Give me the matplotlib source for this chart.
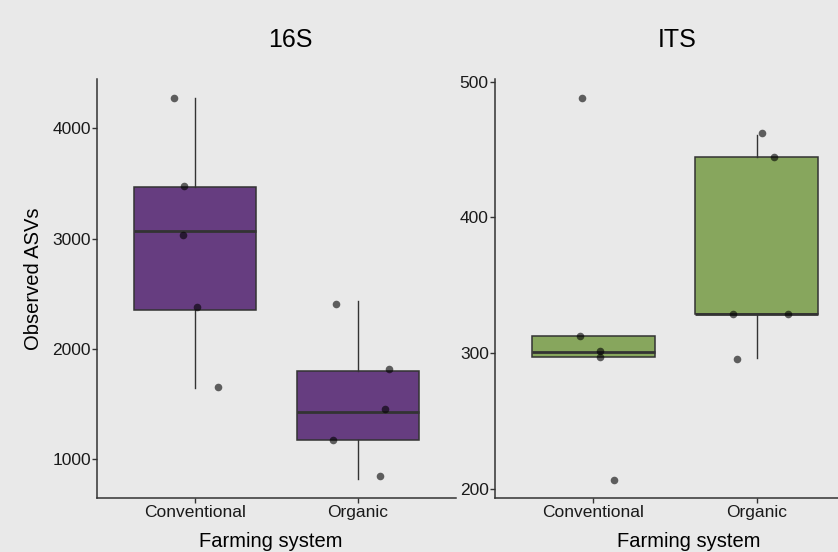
import matplotlib
matplotlib.use("Agg")
import matplotlib.pyplot as plt

# ---------------- data ----------------
categories = ["Conventional", "Organic"]
panel_titles = ["16S", "ITS"]

# box statistics: [whislo, q1, med, q3, whishi]
box_16s = [[1648, 2350, 3069, 3468, 4272],
           [821, 1177, 1428, 1803, 2434]]
box_its = [[297, 297, 301, 313, 313],
           [296.5, 328.7, 329.2, 444.6, 461]]

# jittered points (y values) and their horizontal jitter (category units)
pts_16s_conv = [4272, 3477, 3033, 2377, 1652]
jit_16s_conv = [-0.129, -0.067, -0.075, 0.014, 0.143]
pts_16s_org = [2407, 1815, 1455, 1177, 848]
jit_16s_org = [-0.133, 0.192, 0.166, -0.153, 0.133]
pts_its_conv = [488, 313, 301.5, 297, 207]
jit_its_conv = [-0.067, -0.081, 0.043, 0.043, 0.125]
pts_its_org = [462, 444.6, 328.7, 328.7, 295.8]
jit_its_org = [0.029, 0.104, -0.148, 0.189, -0.120]

yticks_16s = [1000, 2000, 3000, 4000]
yticks_its = [200, 300, 400, 500]
ylim_16s = (647, 4447)
ylim_its = (193.4, 502)

ylabel = "Observed ASVs"
xlabel = "Farming system"

# ---------------- style ----------------
BG = "#E9E9E9"
DARK = "#333333"
PURPLE = "#663D80"
GREEN = "#87A65D"

plt.rcParams["font.family"] = ["Liberation Sans", "DejaVu Sans"]

fig = plt.figure(figsize=(8.38, 5.52), dpi=100, facecolor=BG)

W, H = 838, 552
def rect(x0, x1, ytop, ybot):
    return [x0 / W, (H - ybot) / H, (x1 - x0) / W, (ybot - ytop) / H]

ax1 = fig.add_axes(rect(97, 456, 79, 498))
ax2 = fig.add_axes(rect(495, 855, 79, 498))


def make_stats(rows):
    out = []
    for r in rows:
        out.append(dict(whislo=r[0], q1=r[1], med=r[2], q3=r[3], whishi=r[4], fliers=[]))
    return out


def draw(ax, stats, color, pts, jits, yticks, ylim):
    ax.set_facecolor(BG)
    ax.bxp(make_stats(stats), positions=[1, 2], widths=0.75, patch_artist=True,
           showcaps=False, showfliers=False,
           boxprops=dict(facecolor=color, edgecolor=DARK, linewidth=1.1),
           medianprops=dict(color=DARK, linewidth=2.0),
           whiskerprops=dict(color=DARK, linewidth=1.0))
    for i, (ys, js) in enumerate(zip(pts, jits)):
        xs = [i + 1 + j for j in js]
        ax.scatter(xs, ys, s=30, color="black", alpha=0.6, linewidths=0, zorder=5)
    ax.set_xlim(0.4, 2.6)
    ax.set_ylim(*ylim)
    ax.set_xticks([1, 2])
    ax.set_xticklabels(categories)
    ax.set_yticks(yticks)
    for s in ["top", "right"]:
        ax.spines[s].set_visible(False)
    for s in ["left", "bottom"]:
        ax.spines[s].set_color(DARK)
        ax.spines[s].set_linewidth(1.1)
    ax.tick_params(axis="both", colors=DARK, labelcolor="#1a1a1a", labelsize=12.5,
                   length=3.5, width=1.0)
    ax.tick_params(axis="x", pad=1.5)
    ax.tick_params(axis="y", pad=1.0)
    ax.set_xlabel(xlabel, fontsize=14.5, color="black")


draw(ax1, box_16s, PURPLE, [pts_16s_conv, pts_16s_org], [jit_16s_conv, jit_16s_org],
     yticks_16s, ylim_16s)
draw(ax2, box_its, GREEN, [pts_its_conv, pts_its_org], [jit_its_conv, jit_its_org],
     yticks_its, ylim_its)

ax1.set_ylabel(ylabel, fontsize=14.5, color="black")
ax1.yaxis.set_label_coords(-0.1755, 0.524)
ax1.yaxis.label.set_va("center")

ax1.xaxis.set_label_coords(0.485, -0.104)
ax1.xaxis.label.set_va("center")
ax2.xaxis.set_label_coords(0.539, -0.104)
ax2.xaxis.label.set_va("center")

fig.text(290 / W, 1 - 40 / H, panel_titles[0], fontsize=18, ha="center", va="center")
fig.text(677.5 / W, 1 - 40 / H, panel_titles[1], fontsize=18, ha="center", va="center")

fig.savefig("out.png", dpi=100, facecolor=BG)
